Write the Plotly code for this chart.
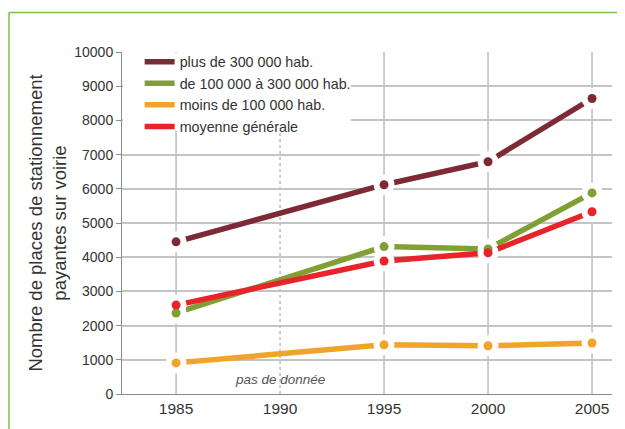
import plotly.graph_objects as go

years = [1985, 1995, 2000, 2005]
plus_300k = [4450, 6120, 6790, 8640]
de_100k_300k = [2370, 4310, 4240, 5880]
moins_100k = [910, 1440, 1410, 1490]
moyenne = [2600, 3890, 4130, 5330]

series_names = ["plus de 300 000 hab.", "de 100 000 à 300 000 hab.",
                "moins de 100 000 hab.", "moyenne générale"]
series_values = [plus_300k, de_100k_300k, moins_100k, moyenne]
colors = ["#7e2a36", "#80a034", "#f0a52a", "#e8232a"]

x_ticks = [1985, 1990, 1995, 2000, 2005]
y_ticks = list(range(0, 10001, 1000))
y_tick_labels = [str(v) for v in y_ticks]

FONT = "Liberation Sans, Arial, sans-serif"

fig = go.Figure()
for name, vals, col in zip(series_names, series_values, colors):
    fig.add_trace(go.Scatter(x=years, y=vals, mode="lines", name=name,
                             line=dict(color=col, width=5.5), showlegend=True))
    fig.add_trace(go.Scatter(x=years, y=vals, mode="markers", showlegend=False,
                             hoverinfo="skip",
                             marker=dict(color="white", size=21)))
for name, vals, col in zip(series_names, series_values, colors):
    fig.add_trace(go.Scatter(x=years, y=vals, mode="markers", showlegend=False,
                             name=name, marker=dict(color=col, size=9)))

shapes = []
for xv in [1985, 1995, 2000, 2005]:
    shapes.append(dict(type="line", xref="x", yref="y", x0=xv, x1=xv, y0=0, y1=10000,
                       line=dict(color="#bdbdbd", width=1.5), layer="below"))
shapes.append(dict(type="line", xref="x", yref="y", x0=1990, x1=1990, y0=0, y1=10000,
                   line=dict(color="#9a9a9a", width=1, dash="dot"), layer="below"))
# legend box background (hides grid behind legend, keeps top line)
shapes.append(dict(type="rect", xref="x", yref="y", x0=1982.45, x1=1993.4,
                   y0=7700, y1=9970, fillcolor="white", line=dict(width=0),
                   layer="between"))
# green frame
shapes.append(dict(type="line", xref="paper", yref="paper", x0=-0.2306, x1=1.2,
                   y0=1.1155, y1=1.1155, line=dict(color="#7cc243", width=1.5)))
shapes.append(dict(type="line", xref="paper", yref="paper", x0=-0.2306, x1=-0.2306,
                   y0=1.1155, y1=-0.2, line=dict(color="#7cc243", width=1.5)))

fig.update_layout(
    width=617, height=421,
    margin=dict(l=114, r=13, t=44, b=35),
    paper_bgcolor="white", plot_bgcolor="white",
    font=dict(family=FONT, color="#333333"),
    shapes=shapes,
    showlegend=True,
    legend=dict(x=0.036, y=1.018, xanchor="left", yanchor="top",
                bgcolor="rgba(255,255,255,0)",
                font=dict(size=14.3, color="#333333"), tracegroupgap=0,
                itemclick=False),
    annotations=[dict(x=1990, y=410, xref="x", yref="y", text="<i>pas de donnée</i>",
                      showarrow=False, font=dict(size=13.5, color="#555555"))],
)
fig.update_xaxes(range=[1982.4, 2005.96], tickvals=x_ticks, showgrid=False,
                 zeroline=False, showline=True, linecolor="#8c8c8c", linewidth=1,
                 ticks="", tickfont=dict(size=15.5, color="#333333"))
fig.update_yaxes(range=[0, 10000], tickvals=y_ticks, ticktext=y_tick_labels,
                 showgrid=True, gridcolor="#c4c4c4", gridwidth=1.5, zeroline=False,
                 showline=True, linecolor="#8c8c8c", linewidth=1,
                 ticks="outside", ticklen=5, tickcolor="#8c8c8c",
                 tickfont=dict(size=14, color="#333333"),
                 title=dict(text="Nombre de places de stationnement<br>payantes sur voirie",
                            font=dict(size=18.5, color="#333333"), standoff=2))

fig.write_html("out.html")
